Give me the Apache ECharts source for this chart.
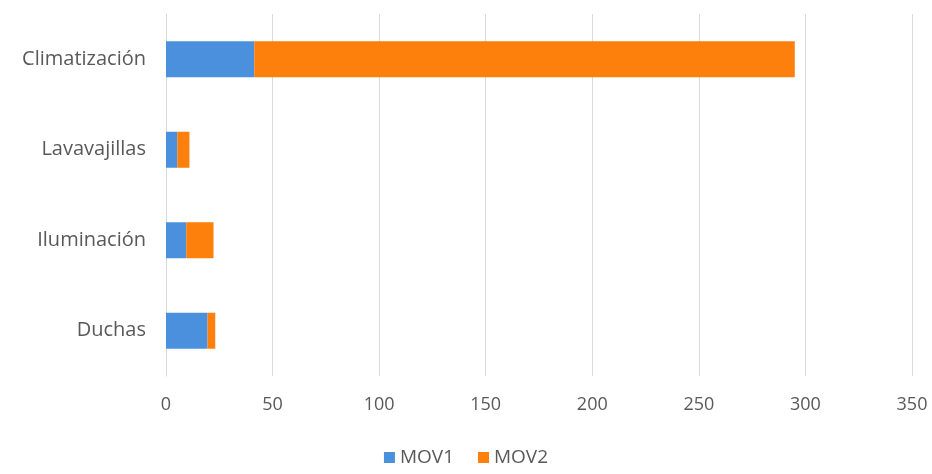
<!DOCTYPE html>
<html>
<head>
<meta charset="utf-8">
<script src="https://cdn.jsdelivr.net/npm/echarts@6/dist/echarts.min.js"></script>
<style>
  html, body { margin: 0; padding: 0; background: #fff; }
  #chart { width: 932px; height: 474px; }
</style>
</head>
<body>
<div id="chart"></div>
<script>
// Energy use by appliance group, split into two measures
const categories = ['Duchas', 'Iluminación', 'Lavavajillas', 'Climatización'];
const mov1 = [19.5, 9.5, 5.3, 41.4];
const mov2 = [3.6, 12.8, 5.7, 253.6];
const xTicks = [0, 50, 100, 150, 200, 250, 300, 350];

const FONT = '"Open Sans", "DejaVu Sans", sans-serif';
const TEXT = '#595959';

const chart = echarts.init(document.getElementById('chart'));
chart.setOption({
  animation: false,
  textStyle: { fontFamily: FONT },
  grid: { left: 166, right: 20, top: 14, bottom: 98, containLabel: false },
  xAxis: {
    type: 'value',
    min: xTicks[0],
    max: xTicks[xTicks.length - 1],
    interval: 50,
    axisLine: { show: false },
    axisTick: { show: false },
    splitLine: { lineStyle: { color: '#d9d9d9', width: 1 } },
    axisLabel: { color: TEXT, fontSize: 18, margin: 20, fontFamily: FONT }
  },
  yAxis: {
    type: 'category',
    data: categories,
    axisLine: { show: true, lineStyle: { color: '#d9d9d9' } },
    axisTick: { show: false },
    axisLabel: { color: TEXT, fontSize: 20, margin: 20, fontFamily: FONT }
  },
  legend: {
    bottom: 2,
    left: 'center',
    itemWidth: 11,
    itemHeight: 11,
    itemGap: 24,
    icon: 'rect',
    textStyle: { color: TEXT, fontSize: 19, fontFamily: FONT },
    data: ['MOV1', 'MOV2']
  },
  series: [
    {
      name: 'MOV1', type: 'bar', stack: 'total', data: mov1,
      barWidth: 36,
      itemStyle: { color: '#4a90dc' }
    },
    {
      name: 'MOV2', type: 'bar', stack: 'total', data: mov2,
      barWidth: 36,
      itemStyle: { color: '#fd7f0c' }
    }
  ]
});
</script>
</body>
</html>
